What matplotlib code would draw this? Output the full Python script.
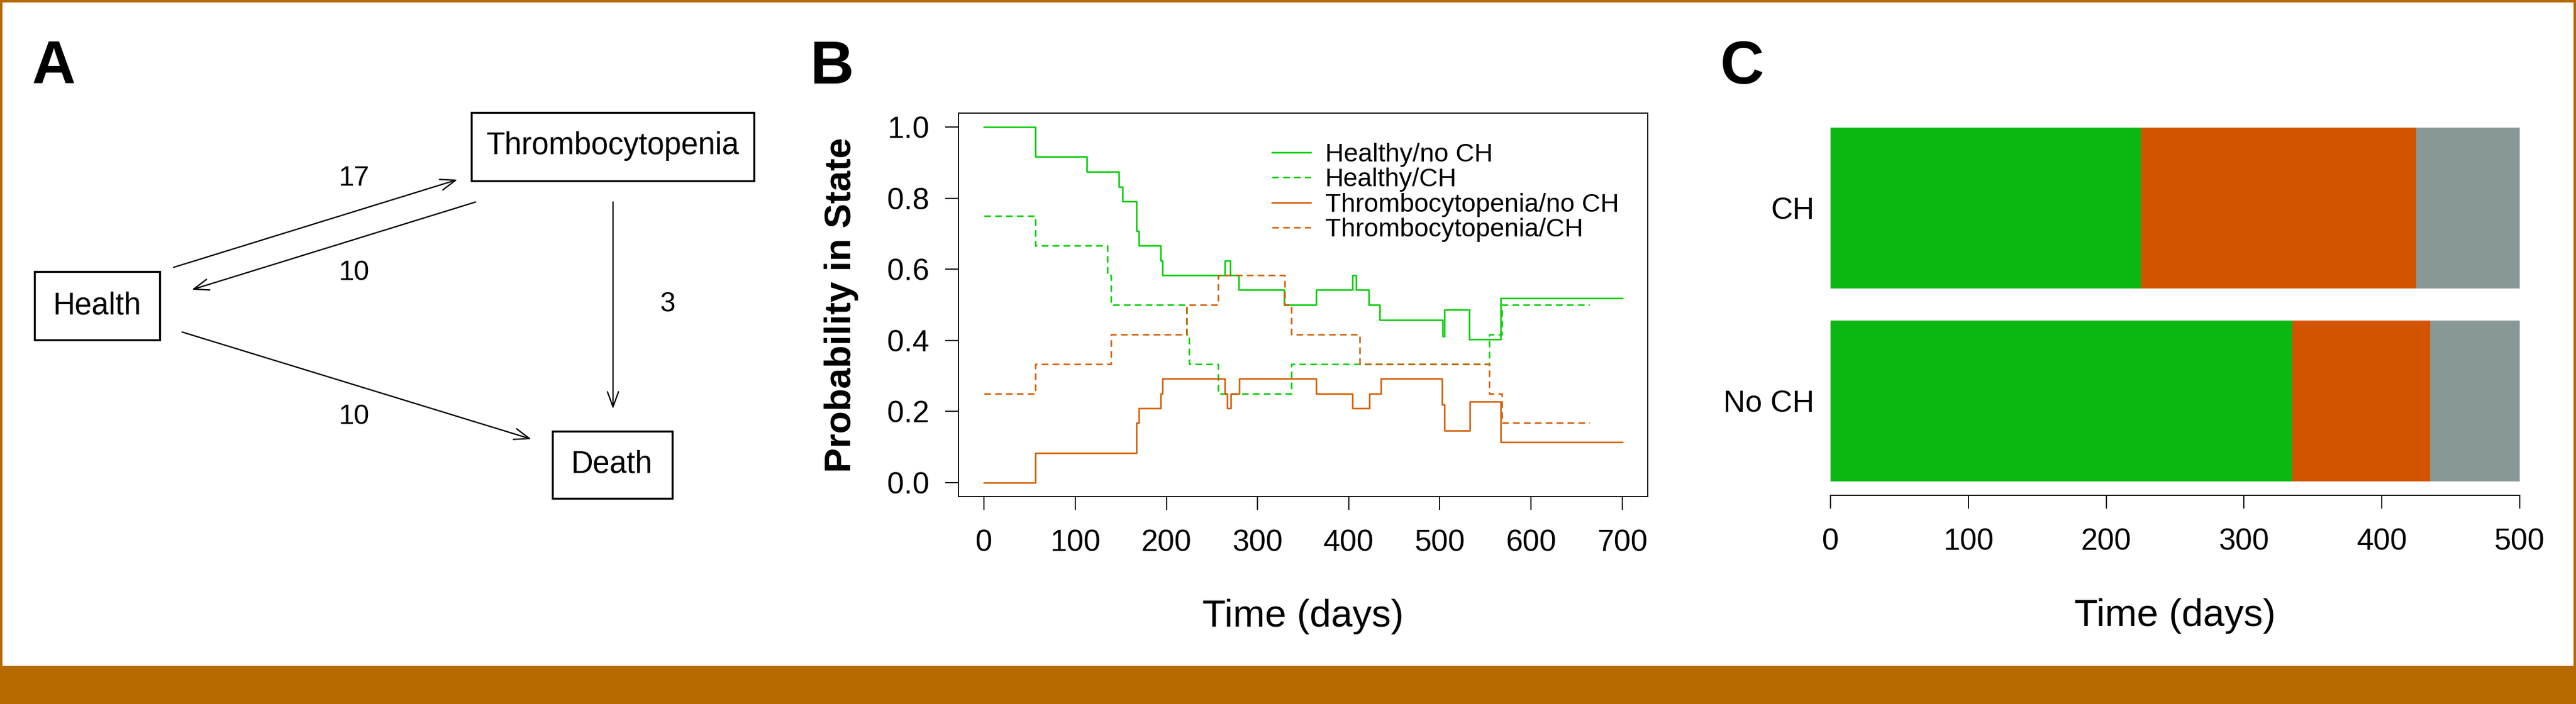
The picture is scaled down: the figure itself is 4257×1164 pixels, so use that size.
import matplotlib
matplotlib.use('Agg')
import matplotlib.pyplot as plt
from matplotlib import font_manager
from matplotlib.patches import Rectangle

# ---------- data ----------
# panel A: observed transitions between states
states_a = ['Health', 'Thrombocytopenia', 'Death']
transitions = [('Health', 'Thrombocytopenia', 17),
               ('Thrombocytopenia', 'Health', 10),
               ('Thrombocytopenia', 'Death', 3),
               ('Health', 'Death', 10)]

# panel B: probability in state (step curves), time in days
t_healthy_noch = [0, 56, 113, 148, 152, 167, 170, 194, 196, 264, 270, 279, 329,
                  364, 404, 408, 422, 434, 503, 505, 532, 567, 700]
p_healthy_noch = [1.0, 0.917, 0.875, 0.833, 0.792, 0.708, 0.667, 0.625, 0.583,
                  0.625, 0.583, 0.542, 0.5, 0.542, 0.583, 0.542, 0.5, 0.458,
                  0.412, 0.486, 0.403, 0.519, 0.519]
t_healthy_ch = [0, 56, 135, 139, 222, 225, 257, 337, 554, 568, 664]
p_healthy_ch = [0.75, 0.667, 0.583, 0.5, 0.417, 0.333, 0.25, 0.333, 0.417, 0.5, 0.5]
t_thrombo_noch = [0, 56, 167, 170, 194, 196, 264, 267, 271, 280, 364, 404, 423,
                  435, 502, 505, 533, 567, 700]
p_thrombo_noch = [0.0, 0.083, 0.167, 0.208, 0.25, 0.292, 0.25, 0.208, 0.25,
                  0.292, 0.25, 0.208, 0.25, 0.292, 0.219, 0.146, 0.227, 0.113, 0.113]
t_thrombo_ch = [0, 56, 139, 222, 257, 330, 337, 412, 554, 568, 664]
p_thrombo_ch = [0.25, 0.333, 0.417, 0.5, 0.583, 0.5, 0.417, 0.333, 0.25, 0.167, 0.167]
legend_b = ['Healthy/no CH', 'Healthy/CH', 'Thrombocytopenia/no CH', 'Thrombocytopenia/CH']
xticks_b = [0, 100, 200, 300, 400, 500, 600, 700]
yticks_b = [0.0, 0.2, 0.4, 0.6, 0.8, 1.0]

# panel C: days spent in each state within 500 days
groups_c = ['No CH', 'CH']
healthy_days = [335, 225]
thrombo_days = [100, 200]
death_days = [65, 75]
xticks_c = [0, 100, 200, 300, 400, 500]

# ---------- style ----------
W, H = 4257, 1164
GREEN = '#00CD00'
ORANGE = '#D25A00'
BAR_COLS = ['#0BB713', '#D35400', '#889896']
FRAME = '#B66A00'

names = {f.name for f in font_manager.fontManager.ttflist}
has_narrow = 'Liberation Sans Narrow' in names
plt.rcParams['font.family'] = ['Liberation Sans', 'DejaVu Sans']
narrow = ['Liberation Sans Narrow', 'Liberation Sans', 'DejaVu Sans'] if has_narrow else ['Liberation Sans', 'DejaVu Sans']
xlab_size = 54 if has_narrow else 45.7
ylab_size = 54 if has_narrow else 44

fig = plt.figure(figsize=(W / 100, H / 100), dpi=100)


def fx(px):
    return px / W


def fy(py):
    return 1 - py / H


# orange frame around the figure
for x0, y0, w, h in [(0, 1101, W, 63), (0, 0, W, 4), (0, 0, 4, H), (W - 4, 0, 4, H)]:
    fig.add_artist(Rectangle((fx(x0), fy(y0 + h)), w / W, h / H,
                             transform=fig.transFigure, color=FRAME, lw=0))

# panel letters
for letter, px in [('A', 53), ('B', 1338), ('C', 2843)]:
    fig.text(fx(px), fy(138), letter, fontsize=72, fontweight='bold',
             ha='left', va='baseline')

# ---------- panel A: state diagram ----------
ax_a = fig.add_axes([0, 0, 1350 / W, 1])
ax_a.set_xlim(0, 1350)
ax_a.set_ylim(H, 0)
ax_a.axis('off')

# layout (image pixels): box centre and size
node_box = {'Health': (160.5, 505.5, 207, 113),
            'Thrombocytopenia': (1012.5, 242, 467, 113),
            'Death': (1011.6, 768.4, 198, 111)}
arrow_pos = {('Health', 'Thrombocytopenia'): ((287, 442), (756, 297)),
             ('Thrombocytopenia', 'Health'): ((786, 334), (317, 479)),
             ('Thrombocytopenia', 'Death'): ((1013, 334), (1013, 676)),
             ('Health', 'Death'): ((301, 549), (878, 726))}
count_pos = {('Health', 'Thrombocytopenia'): (585, 295),
             ('Thrombocytopenia', 'Health'): (585, 451),
             ('Thrombocytopenia', 'Death'): (1103, 503),
             ('Health', 'Death'): (585, 689)}

for s in states_a:
    cx, cy, w, h = node_box[s]
    ax_a.add_patch(Rectangle((cx - w / 2, cy - h / 2), w, h, fill=False,
                             lw=2.4, ec='black'))
    ax_a.text(cx, cy, s, fontsize=36.4, ha='center', va='center')

for src, dst, n in transitions:
    start, end = arrow_pos[(src, dst)]
    ax_a.annotate('', xy=end, xytext=start,
                  arrowprops=dict(arrowstyle='->,head_length=0.9,head_width=0.33',
                                  mutation_scale=20, lw=1.6, color='black',
                                  shrinkA=0, shrinkB=0))
    tx, ty = count_pos[(src, dst)]
    ax_a.text(tx, ty, str(n), fontsize=33, ha='center', va='center')

# ---------- panel B: probability in state ----------
ax_b = fig.add_axes([fx(1584), fy(821), 1139 / W, 634 / H])
LW = 1.8
dash = (0, (4.4, 2.8))
ax_b.step(t_healthy_noch, p_healthy_noch, where='post', color=GREEN, lw=LW, label=legend_b[0])
ax_b.step(t_healthy_ch, p_healthy_ch, where='post', color=GREEN, lw=LW, ls=dash, label=legend_b[1])
ax_b.step(t_thrombo_noch, p_thrombo_noch, where='post', color=ORANGE, lw=LW, label=legend_b[2])
ax_b.step(t_thrombo_ch, p_thrombo_ch, where='post', color=ORANGE, lw=LW, ls=dash, label=legend_b[3])
ax_b.set_xlim(-28, 728)
ax_b.set_ylim(-0.04, 1.04)
ax_b.set_xticks(xticks_b)
ax_b.set_yticks(yticks_b)
ax_b.set_yticklabels([f'{v:.1f}' for v in yticks_b])
ax_b.tick_params(axis='x', direction='out', length=15.8, width=1.3, labelsize=36, pad=23)
ax_b.tick_params(axis='y', direction='out', length=15.8, width=1.3, labelsize=36, pad=19)
for sp in ax_b.spines.values():
    sp.set_linewidth(1.3)
ax_b.set_xlabel('Time (days)', fontsize=xlab_size, family=narrow, va='baseline')
ax_b.xaxis.set_label_coords(0.5, -0.339)
ax_b.set_ylabel('Probability in State', fontsize=ylab_size, family=narrow,
                fontweight='bold', va='baseline', rotation_mode='anchor')
ax_b.yaxis.set_label_coords(-0.1563, 0.5)
ax_b.legend(loc='upper left', bbox_to_anchor=(fx(2102), fy(236)),
            bbox_transform=fig.transFigure, frameon=False, fontsize=30.7,
            handlelength=1.5, handletextpad=0.56, labelspacing=0.03,
            borderpad=0, borderaxespad=0)

# ---------- panel C: stacked days in state ----------
ax_c = fig.add_axes([fx(3025), fy(819.4), 1139 / W, 632 / H])
ypos = [0.7, 1.9]
left = [0, 0]
for vals, col in zip([healthy_days, thrombo_days, death_days], BAR_COLS):
    ax_c.barh(ypos, vals, height=1.0, left=left, color=col, lw=0)
    left = [a + b for a, b in zip(left, vals)]
ax_c.set_xlim(0, 500)
ax_c.set_ylim(0.112, 2.488)
ax_c.set_yticks(ypos)
ax_c.set_yticklabels(groups_c)
ax_c.set_xticks(xticks_c)
ax_c.tick_params(axis='y', length=0, labelsize=36, pad=19)
ax_c.tick_params(axis='x', direction='out', length=15.8, width=1.3, labelsize=36, pad=23)
for side in ['left', 'top', 'right']:
    ax_c.spines[side].set_visible(False)
ax_c.spines['bottom'].set_linewidth(1.3)
ax_c.spines['bottom'].set_bounds(0, 500)
ax_c.set_xlabel('Time (days)', fontsize=xlab_size, family=narrow, va='baseline')
ax_c.xaxis.set_label_coords(0.5, -0.341)

fig.savefig('out.png', dpi=100)
